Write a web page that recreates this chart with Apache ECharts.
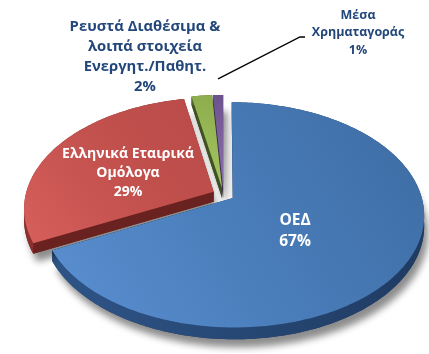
<!DOCTYPE html>
<html>
<head>
<meta charset="utf-8">
<script src="https://cdn.jsdelivr.net/npm/echarts@6/dist/echarts.min.js"></script>
<style>
  html, body { margin: 0; padding: 0; background: #fff; }
  #chart { width: 429px; height: 354px; }
</style>
</head>
<body>
<div id="chart"></div>
<script>
// Portfolio composition (percent of total)
const categories = ['ΟΕΔ', 'Ελληνικά Εταιρικά Ομόλογα', 'Ρευστά Διαθέσιμα & λοιπά στοιχεία Ενεργητ./Παθητ.', 'Μέσα Χρηματαγοράς'];
const values = [67, 29, 2, 1];
const labelLines = [
  ['ΟΕΔ'],
  ['Ελληνικά Εταιρικά', 'Ομόλογα'],
  ['Ρευστά Διαθέσιμα &', 'λοιπά στοιχεία', 'Ενεργητ./Παθητ.'],
  ['Μέσα', 'Χρηματαγοράς']
];

// 3D pie geometry: a tilted disc seen with mild perspective
const PIE = { cx: 223.5, cy: 194.5, R: 188, tilt: 0.58, persp: 0.15, explode: 11, depth: 10, start: -90 };

const NAVY = '#23477A';
const FONT = '"Open Sans", "Noto Sans", sans-serif';

// Fills for each slice: top face stops, wall colour
const STYLE = [
  { top: ['#5B90D2', '#4A7EBB', '#3E6CA3'], wall: ['#2E5487', '#1F3B62'] },
  { top: ['#D65F5B', '#C4524F', '#B84A47'], wall: ['#8C302E', '#6A2220'] },
  { top: ['#A6C565', '#9BBB59', '#8CAB4C'], wall: ['#556B2C', '#3F5220'] },
  { top: ['#8C70AE', '#8064A2', '#6C528C'], wall: ['#4A3A60', '#3A2D4D'] }
];

// Label placement (text centre, font size, line height)
const LABEL_LAYOUT = [
  { x: 295, y: 231, color: '#FFFFFF', size: 15.5, lh: 21 },
  { x: 128, y: 173, color: '#FFFFFF', size: 14, lh: 19 },
  { x: 145, y: 57, color: NAVY, size: 14.8, lh: 20 },
  { x: 358, y: 32.5, color: NAVY, size: 12.5, lh: 17.5 }
];
const LEADER = { index: 3, lift: 16, elbow: [300, 37], end: [305, 37] };

// Slice angles derived from the values
const total = values.reduce((a, b) => a + b, 0);
const slices = [];
(function () {
  let acc = 0;
  values.forEach(function (v) {
    const a0 = (PIE.start + 360 * acc / total) * Math.PI / 180;
    acc += v;
    const a1 = (PIE.start + 360 * acc / total) * Math.PI / 180;
    const mid = (a0 + a1) / 2;
    slices.push({ a0: a0, a1: a1, mid: mid, ex: PIE.explode * Math.cos(mid), ez: PIE.explode * Math.sin(mid) });
  });
})();

// Project a point of the disc plane (px right, pz toward viewer) dropped by h pixels
function pt(px, pz, h) {
  const s = 1 / (1 - PIE.persp * pz / PIE.R);
  return [PIE.cx + px * s, PIE.cy + (pz * PIE.tilt + h) * s];
}
function arcPts(sl, h) {
  const out = [];
  const n = Math.max(2, Math.ceil((sl.a1 - sl.a0) * 180 / Math.PI));
  for (let k = 0; k <= n; k++) {
    const t = sl.a0 + (sl.a1 - sl.a0) * k / n;
    out.push(pt(sl.ex + PIE.R * Math.cos(t), sl.ez + PIE.R * Math.sin(t), h));
  }
  return out;
}
function apex(sl, h) { return pt(sl.ex, sl.ez, h); }

function renderWalls(params, api) {
  const i = params.dataIndex;
  const sl = slices[i];
  const st = STYLE[i];
  const top = arcPts(sl, 0);
  const bot = arcPts(sl, PIE.depth);
  const a0 = apex(sl, 0), aD = apex(sl, PIE.depth);
  const wallFill = new echarts.graphic.LinearGradient(0, 0, 1, 0, [
    { offset: 0, color: st.wall[0] }, { offset: 1, color: st.wall[1] }
  ]);
  return {
    type: 'group',
    children: [
      { type: 'polygon', shape: { points: [aD].concat(bot) },
        style: { fill: st.wall[1], shadowColor: 'rgba(0,0,0,0.45)', shadowBlur: 7, shadowOffsetX: 4, shadowOffsetY: 8 } },
      { type: 'polygon', shape: { points: [a0, top[0], bot[0], aD] }, style: { fill: st.wall[1] } },
      { type: 'polygon', shape: { points: [a0, top[top.length - 1], bot[bot.length - 1], aD] }, style: { fill: st.wall[1] } },
      { type: 'polygon', shape: { points: top.concat(bot.slice().reverse()) }, style: { fill: wallFill } }
    ]
  };
}

function renderTops(params, api) {
  const i = params.dataIndex;
  const sl = slices[i];
  const st = STYLE[i];
  const face = [apex(sl, 0)].concat(arcPts(sl, 0));
  const fill = new echarts.graphic.LinearGradient(0, 1, 1, 0, [
    { offset: 0, color: st.top[0] }, { offset: 0.45, color: st.top[1] }, { offset: 1, color: st.top[2] }
  ]);
  const lay = LABEL_LAYOUT[i];
  const text = labelLines[i].concat([api.value(1) + '%']).join('\n');
  const children = [
    { type: 'polygon', shape: { points: face }, style: { fill: fill } },
    { type: 'text', x: lay.x, y: lay.y,
      style: { text: text, fill: lay.color, font: 'bold ' + lay.size + 'px ' + FONT,
        align: 'center', verticalAlign: 'middle', textAlign: 'center', textVerticalAlign: 'middle', lineHeight: lay.lh } }
  ];
  if (i === LEADER.index) {
    const m = pt(sl.ex + PIE.R * Math.cos(sl.mid), sl.ez + PIE.R * Math.sin(sl.mid), 0);
    children.push({ type: 'polyline', shape: { points: [[m[0], m[1] - LEADER.lift], LEADER.elbow, LEADER.end] },
      style: { stroke: '#000', lineWidth: 1.3, fill: null } });
  }
  return { type: 'group', children: children };
}

const data = values.map(function (v, i) { return { name: categories[i], value: [i, v] }; });

const chart = echarts.init(document.getElementById('chart'), null, { renderer: 'canvas' });
chart.setOption({
  backgroundColor: '#FFFFFF',
  animation: false,
  series: [
    { type: 'custom', coordinateSystem: 'none', z: 1, renderItem: renderWalls, data: data, silent: true },
    { type: 'custom', coordinateSystem: 'none', z: 2, renderItem: renderTops, data: data, silent: true }
  ]
});
</script>
</body>
</html>
